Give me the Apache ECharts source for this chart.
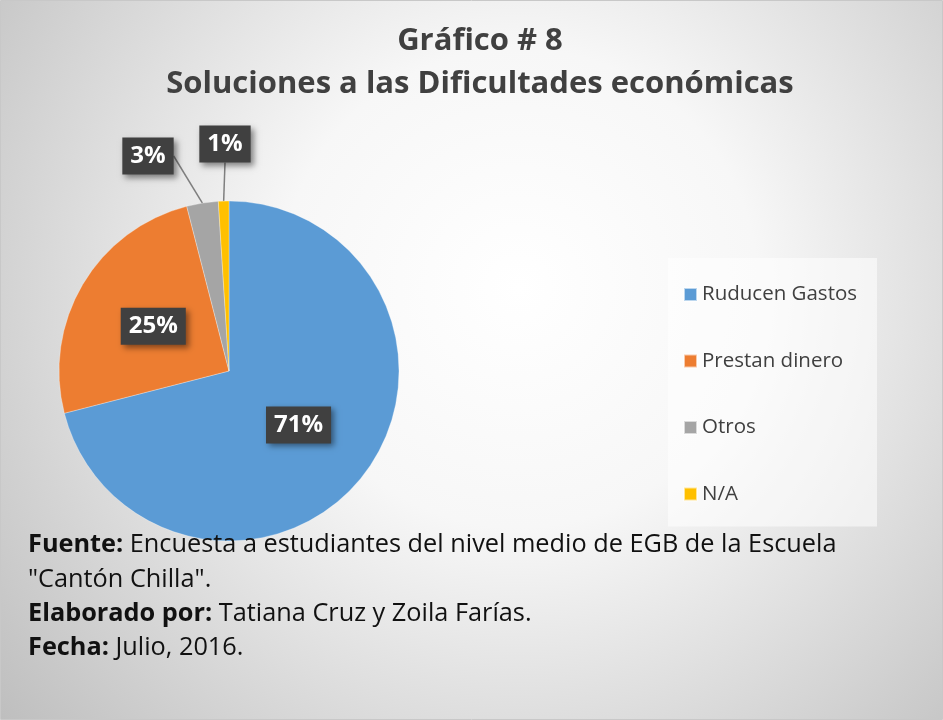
<!DOCTYPE html>
<html>
<head>
<meta charset="utf-8">
<script src="https://cdn.jsdelivr.net/npm/echarts@6/dist/echarts.min.js"></script>
<style>
  html, body { margin: 0; padding: 0; }
  #chart { width: 943px; height: 720px; }
</style>
</head>
<body>
<div id="chart"></div>
<script>
// datos del gráfico
var categorias = ['Ruducen Gastos', 'Prestan dinero', 'Otros', 'N/A'];
var valores = [71, 25, 3, 1];
var colores = ['#5b9bd5', '#ed7d31', '#a5a5a5', '#ffc000'];
var etiquetasFuera = [false, false, true, true];

var FONT = '"Open Sans", Lato, sans-serif';

var chart = echarts.init(document.getElementById('chart'));

var datos = categorias.map(function (c, i) {
    var item = { name: c, value: valores[i], itemStyle: { color: colores[i] } };
    if (etiquetasFuera[i]) {
        item.label = { position: 'outside' };
        item.labelLine = { show: true };
    }
    return item;
});

// posiciones de las etiquetas pequeñas (fuera del pastel)
var posEtiqueta = { 2: [148, 156], 3: [225, 144] };

chart.setOption({
    textStyle: { fontFamily: FONT },
    graphic: [
        {
            type: 'rect', z: -10, silent: true,
            shape: { x: 0.5, y: 0.5, width: 942, height: 719 },
            style: {
                fill: new echarts.graphic.RadialGradient(0.55, 0.4, 0.95, [
                    { offset: 0, color: '#ffffff' },
                    { offset: 0.35, color: '#f7f7f7' },
                    { offset: 1, color: '#bdbdbd' }
                ]),
                stroke: '#c8c8c8', lineWidth: 1
            }
        },
        {
            type: 'text', left: 28, top: 528, z: 100,
            style: {
                text: '{b|Fuente:} Encuesta a estudiantes del nivel medio de EGB de la Escuela\n' +
                      '"Cantón Chilla".\n' +
                      '{b|Elaborado por:} Tatiana Cruz y Zoila Farías.\n' +
                      '{b|Fecha:} Julio, 2016.',
                font: '25.3px ' + FONT,
                fill: '#111',
                lineHeight: 34.3,
                rich: {
                    b: { fontWeight: 'bold', fontSize: 25.3, fontFamily: FONT, lineHeight: 34.3, fill: '#111' }
                }
            }
        }
    ],
    title: {
        text: 'Gráfico # 8\nSoluciones a las Dificultades económicas',
        left: 475, top: 15, textAlign: 'center',
        textStyle: { fontSize: 31, fontWeight: 'bold', color: '#404040', lineHeight: 43, fontFamily: FONT }
    },
    legend: {
        orient: 'vertical',
        left: 668, top: 258,
        padding: [26, 20, 22, 15],
        itemGap: 45.5,
        itemWidth: 13, itemHeight: 13,
        icon: 'rect',
        backgroundColor: 'rgba(255,255,255,0.55)',
        data: categorias,
        textStyle: { fontSize: 20.5, color: '#404040', fontFamily: FONT }
    },
    series: [{
        type: 'pie',
        center: [229, 371],
        radius: 170,
        startAngle: 90,
        clockwise: true,
        silent: true,
        data: datos,
        itemStyle: { borderColor: 'rgba(255,255,255,0.6)', borderWidth: 0.5 },
        label: {
            show: true,
            position: 'inside',
            formatter: '{d}%',
            color: '#fff',
            fontSize: 24,
            fontWeight: 'bold',
            fontFamily: FONT,
            backgroundColor: '#404040',
            padding: [7, 8, 6, 8],
            shadowColor: 'rgba(0,0,0,0.45)',
            shadowBlur: 6,
            shadowOffsetX: 3,
            shadowOffsetY: 3
        },
        labelLine: {
            show: false,
            length: 40, length2: 0,
            lineStyle: { color: '#7f7f7f', width: 1.5 }
        },
        labelLayout: function (p) {
            var pos = posEtiqueta[p.dataIndex];
            if (pos) {
                return { x: pos[0], y: pos[1], align: 'center', verticalAlign: 'middle' };
            }
        }
    }]
});
</script>
</body>
</html>
